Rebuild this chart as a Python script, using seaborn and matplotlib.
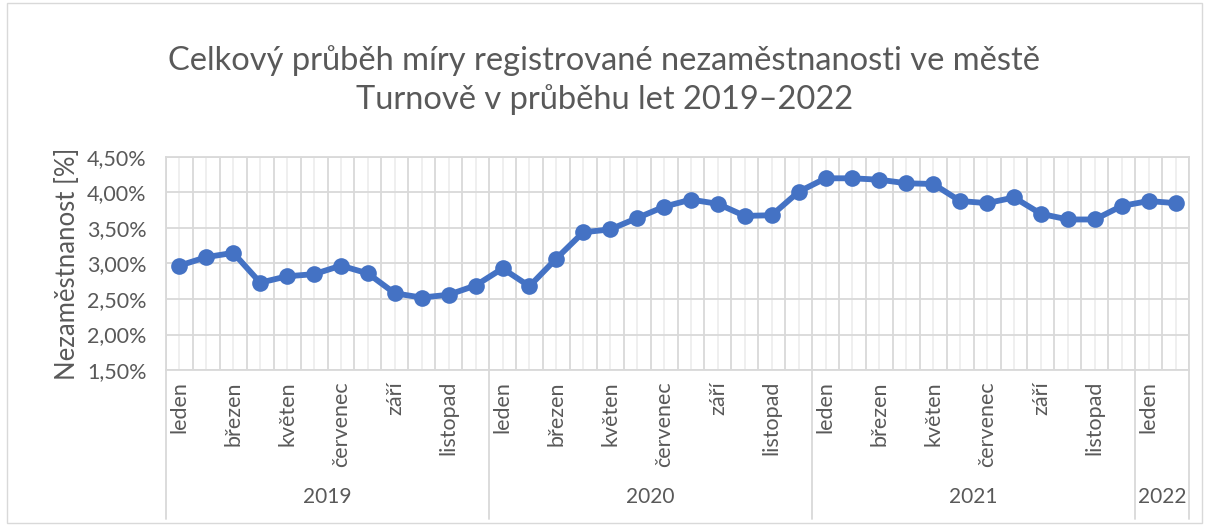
import matplotlib
matplotlib.use("Agg")
import matplotlib.pyplot as plt
import matplotlib.transforms as mtransforms
from matplotlib.ticker import FuncFormatter, FixedLocator
import seaborn as sns
import pandas as pd

months = ["leden", "únor", "březen", "duben", "květen", "červen",
          "červenec", "srpen", "září", "říjen", "listopad", "prosinec"]
years = ["2019", "2020", "2021", "2022"]
months_per_year = [12, 12, 12, 2]
values = [2.97, 3.09, 3.15, 2.73, 2.82, 2.85, 2.97, 2.86, 2.58, 2.52, 2.56, 2.69,
          2.93, 2.68, 3.07, 3.44, 3.48, 3.64, 3.80, 3.90, 3.84, 3.67, 3.68, 4.01,
          4.20, 4.20, 4.18, 4.13, 4.12, 3.88, 3.85, 3.93, 3.70, 3.62, 3.62, 3.81,
          3.88, 3.85]
yticks = [1.5, 2.0, 2.5, 3.0, 3.5, 4.0, 4.5]

title = "Celkový průběh míry registrované nezaměstnanosti ve městě\nTurnově v průběhu let 2019–2022"
ylabel = "Nezaměstnanost [%]"

labels = []
year_col = []
for y, n in zip(years, months_per_year):
    for m in months[:n]:
        labels.append(m)
        year_col.append(y)
df = pd.DataFrame({"pos": range(len(values)), "value": values,
                   "month": labels, "year": year_col})

sns.set_theme(style="white")
plt.rcParams["font.family"] = ["Lato", "DejaVu Sans"]
txt = "#595959"
grid_major = "#d9d9d9"
grid_minor = "#eeeeee"

fig = plt.figure(figsize=(12.09, 5.26), dpi=100)
ax = fig.add_axes([166/1209, 1-370/526, (1189-166)/1209, (370-157)/526])

sns.lineplot(data=df, x="pos", y="value", ax=ax, color="#4472C4",
             linewidth=4.2, marker="o", markersize=12, markeredgewidth=0,
             zorder=3)

n = len(values)
ax.set_xlim(-0.5, n - 0.5)
ax.set_ylim(yticks[0], yticks[-1])
ax.set_yticks(yticks)
ax.yaxis.set_major_formatter(FuncFormatter(lambda v, p: f"{v:.2f}%".replace(".", ",")))

ax.xaxis.set_major_locator(FixedLocator(list(range(n))))
ax.set_xticklabels([lab if i % 2 == 0 else "" for i, lab in enumerate(labels)],
                   rotation=90, va="top", ha="center")
ax.xaxis.set_minor_locator(FixedLocator([i - 0.5 for i in range(n + 1)]))

ax.grid(True, which="major", axis="x", color=grid_minor, linewidth=1.3, zorder=0)
ax.grid(True, which="minor", axis="x", color=grid_major, linewidth=1.3, zorder=0)
ax.grid(True, which="major", axis="y", color=grid_major, linewidth=1.3, zorder=0)
ax.tick_params(axis="both", which="both", length=0, labelsize=15.5, labelcolor=txt)
ax.tick_params(axis="x", pad=8)
ax.tick_params(axis="y", pad=14)
for s in ax.spines.values():
    s.set_color(grid_major)
    s.set_linewidth(1.3)

ax.set_xlabel("")
ax.set_ylabel(ylabel, fontsize=18.5, color=txt, labelpad=5)

# year groups
trans = mtransforms.blended_transform_factory(ax.transData, ax.transAxes)
start = 0
bounds = [-0.5]
for y, cnt in zip(years, months_per_year):
    mid = start + (cnt - 1) / 2
    ax.text(mid, -0.595, y, transform=trans, ha="center", va="center",
            fontsize=15, color=txt)
    start += cnt
    bounds.append(start - 0.5)
for b in bounds:
    ax.plot([b, b], [0, -0.70], transform=trans, color=grid_major,
            linewidth=1.3, clip_on=False, zorder=0)

fig.suptitle(title, x=0.5, y=0.915, fontsize=23.5, color=txt, va="top",
             linespacing=1.35)

fig.patches.append(plt.Rectangle((7/1209, 0.005), 1 - 14/1209, 0.99,
                                 transform=fig.transFigure, fill=False,
                                 edgecolor=grid_major, linewidth=1.0))

fig.savefig("out.png", dpi=100)
